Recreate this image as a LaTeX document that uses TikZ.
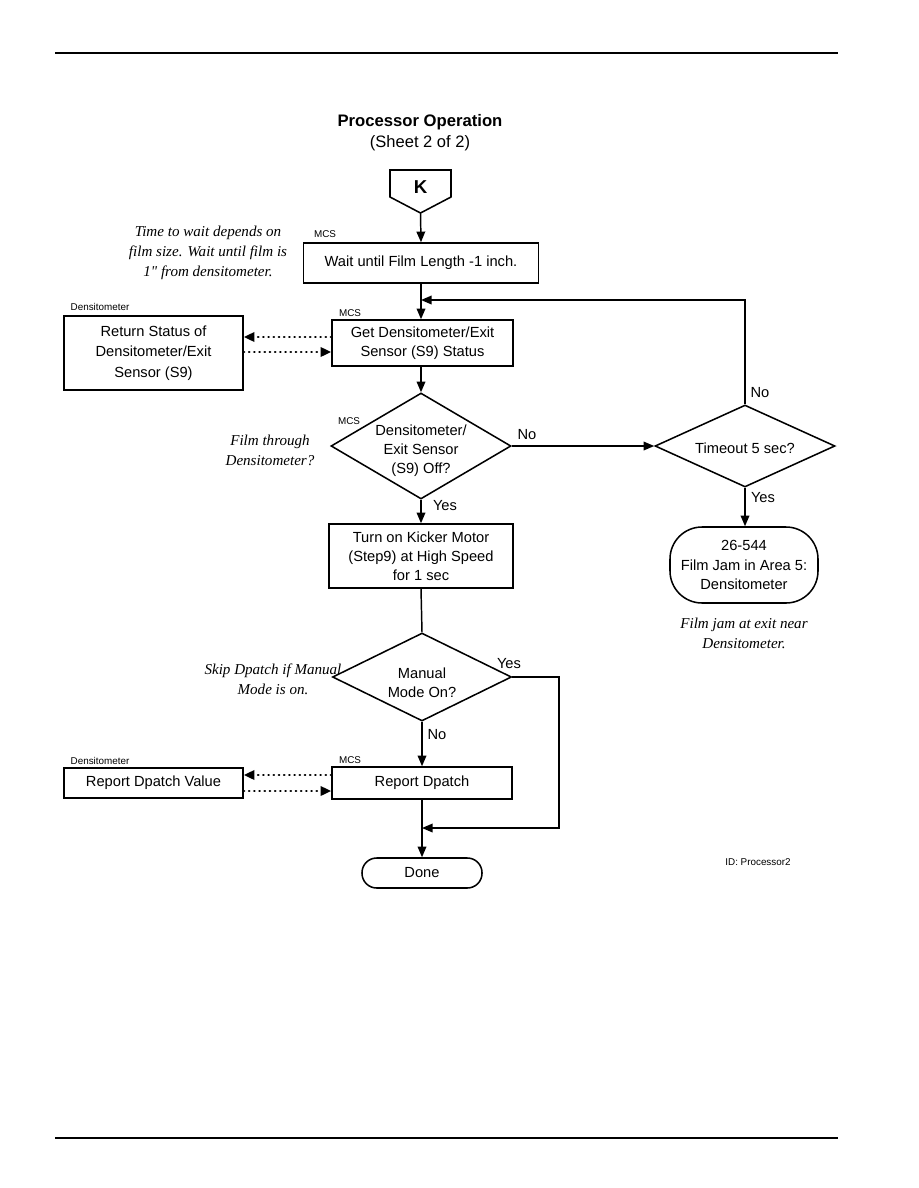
\documentclass[tikz,border=0pt]{standalone}
\usepackage{fontspec}
\setmainfont{Liberation Sans}
\newfontfamily\notefont{Liberation Serif}
\usetikzlibrary{shapes.geometric,arrows.meta}
\begin{document}
\begin{tikzpicture}[x=0.75pt,y=-0.75pt,
  box/.style={draw, line width=1.15pt, align=center, font=\fontsize{11}{14.3}\selectfont, inner sep=0pt},
  dia/.style={draw, diamond, line width=1.15pt, inner sep=0pt},
  term/.style={draw, line width=1.15pt, align=center, font=\fontsize{11}{14.3}\selectfont, inner sep=0pt},
  txt/.style={align=center, font=\fontsize{11}{14.3}\selectfont, inner sep=0pt},
  small/.style={font=\fontsize{7.4}{9}\selectfont, inner sep=0pt},
  note/.style={align=center, font=\notefont\itshape\fontsize{11.3}{15}\selectfont, inner sep=0pt},
  arr/.style={line width=1.1pt, -{Triangle[length=8pt,width=6.5pt]}},
  dots/.style={line width=1.8pt, line cap=round, dash pattern=on 0.3pt off 3.6pt, -{Triangle[length=8pt,width=7pt]}},
  plain/.style={line width=1.1pt},
]
\useasboundingbox (0,0) rectangle (918,1188);
% page rules
\draw[line width=2.2pt] (55,53) coordinate (rt1) -- (838,53) coordinate (rt2);
\draw[line width=1.1pt] (55,1138) coordinate (rb1) -- (838,1138) coordinate (rb2);

% title
\node[font=\bfseries\fontsize{12.5}{15}\selectfont, inner sep=0pt] (title) at (420,122) {Processor Operation};
\node[font=\fontsize{12.4}{15}\selectfont, inner sep=0pt] (sub) at (420,143) {(Sheet 2 of 2)};

% K connector
\node[font=\bfseries\fontsize{14}{16}\selectfont, inner sep=0pt] (K) at (420.5,187) {K};
\draw[line width=1.15pt] (390,170) -- (451,170) -- (451,197) -- (420.5,213) -- (390,197) -- cycle;
\coordinate (kb) at (420.5,213);

% boxes
\node[box, minimum width=176.25pt, minimum height=30pt] (wait) at (421,263) {Wait until Film Length -1 inch.};
\node[small] (mcs1) at (325,234) {MCS};
\node[note] (n1) at (208,253) {Time to wait depends on\\film size. Wait until film is\\1" from densitometer.};

\node[box, minimum width=135.75pt, minimum height=34.5pt] (get) at (422.5,343) {Get Densitometer/Exit\\Sensor (S9) Status};
\node[small] (mcs2) at (350,313) {MCS};

\node[box, minimum width=134.25pt, minimum height=55.5pt, font=\fontsize{11}{15.5}\selectfont] (ret) at (153.5,353) {Return Status of\\Densitometer/Exit\\Sensor (S9)};
\node[small] (dl1) at (100,307) {Densitometer};

% decision 1
\node[dia, minimum width=135pt, minimum height=79.5pt] (d1) at (421,446) {};
\node[txt] (d1t) at (421,451) {Densitometer/\\Exit Sensor\\(S9) Off?};
\node[small] (mcs3) at (349,421) {MCS};
\node[note] (n2) at (270,450) {Film through\\Densitometer?};

% timeout
\node[dia, minimum width=135pt, minimum height=61.5pt] (to) at (745,446) {};
\node[txt] (tot) at (745,448) {Timeout 5 sec?};

% jam terminal
\node[term, minimum width=111pt, minimum height=57pt, rounded corners=24pt] (jam) at (744,565) {26-544\\Film Jam in Area 5:\\Densitometer};
\node[note] (n3) at (744,633) {Film jam at exit near\\Densitometer.};

% kicker
\node[box, minimum width=138pt, minimum height=48pt] (kick) at (421,556) {Turn on Kicker Motor\\(Step9) at High Speed\\for 1 sec};

% decision 2
\node[dia, minimum width=134.25pt, minimum height=66pt] (d2) at (422,677) {};
\node[txt] (d2t) at (422,683) {Manual\\Mode On?};
\node[note] (n4) at (273,679.5) {Skip Dpatch if Manual\\Mode is on.};

% report
\node[box, minimum width=135pt, minimum height=24pt] (rep) at (422,783) {Report Dpatch};
\node[small] (mcs4) at (350,760) {MCS};
\node[box, minimum width=134.25pt, minimum height=22.5pt] (repv) at (153.5,783) {Report Dpatch Value};
\node[small] (dl2) at (100,761) {Densitometer};

% done
\node[term, minimum width=90pt, minimum height=22.5pt, rounded corners=11pt] (done) at (422,873) {Done};

\node[small] (id) at (758,862) {ID: Processor2};

% labels
\node[txt] (l1) at (527,435) {No};
\node[txt] (l2) at (760,393) {No};
\node[txt] (l3) at (763,498) {Yes};
\node[txt] (l4) at (445,506) {Yes};
\node[txt] (l5) at (509,664) {Yes};
\node[txt] (l6) at (437,735) {No};

% connectors
\draw[arr] (kb) -- (wait.north);
\draw[arr] (wait.south) -- (get.north -| wait.south);
\coordinate (loopc) at (745,300);
\coordinate (loopm) at (421,300);
\draw[arr] (to.north) -- (loopc) -- (loopm);
\draw[arr] (get.south -| d1.north) -- (d1.north);
\draw[dots] (get.west |- 0,337) -- (ret.east |- 0,337);
\draw[dots] (ret.east |- 0,352) -- (get.west |- 0,352);
\draw[arr] (d1.east) -- (to.west);
\draw[arr] (to.south) -- (jam.north -| to.south);
\draw[arr] (d1.south) -- (kick.north);
\draw[plain] (kick.south) -- (d2.north);
\coordinate (yc1) at (559,677);
\coordinate (yc2) at (559,828);
\coordinate (ym) at (422,828);
\draw[arr] (d2.east) -- (yc1) -- (yc2) -- (ym);
\draw[arr] (d2.south) -- (rep.north);
\draw[dots] (rep.west |- 0,775) -- (repv.east |- 0,775);
\draw[dots] (repv.east |- 0,791) -- (rep.west |- 0,791);
\draw[arr] (rep.south) -- (done.north);
\end{tikzpicture}
\end{document}
